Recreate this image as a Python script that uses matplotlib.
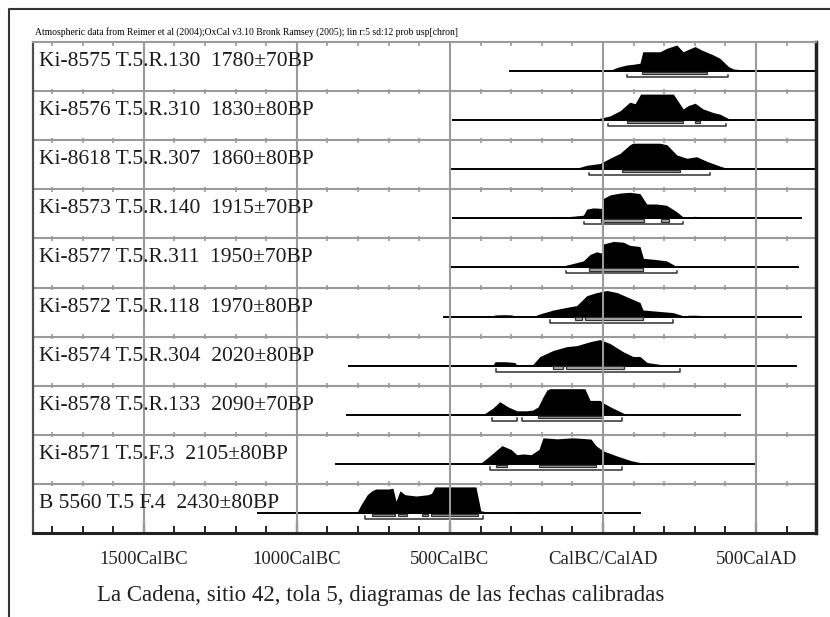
import matplotlib
matplotlib.use("Agg")
import matplotlib.pyplot as plt
from matplotlib.lines import Line2D
from matplotlib.patches import Rectangle

# sample labels, top to bottom
labels = [
    "Ki-8575 T.5.R.130  1780\u00b170BP",
    "Ki-8576 T.5.R.310  1830\u00b180BP",
    "Ki-8618 T.5.R.307  1860\u00b180BP",
    "Ki-8573 T.5.R.140  1915\u00b170BP",
    "Ki-8577 T.5.R.311  1950\u00b170BP",
    "Ki-8572 T.5.R.118  1970\u00b180BP",
    "Ki-8574 T.5.R.304  2020\u00b180BP",
    "Ki-8578 T.5.R.133  2090\u00b170BP",
    "Ki-8571 T.5.F.3  2105\u00b180BP",
    "B 5560 T.5 F.4  2430\u00b180BP",
]

# calibrated probability curves (year BC<0 / AD>0, relative height 0-100)
ki8575_years = [17, 50, 77, 100, 121, 130, 160, 186, 208, 241, 262, 279, 301, 322, 360, 382, 410, 426, 459, 491, 510, 529]
ki8575_prob = [0, 15, 23, 26, 30, 74, 74, 74, 87, 100, 74, 83, 94, 81, 62, 49, 17, 8, 4, 6, 4, 0]

ki8576_years = [-42, -10, 23, 56, 88, 105, 123, 230, 262, 279, 301, 327, 360, 382, 415, 426]
ki8576_prob = [0, 7, 16, 36, 69, 63, 100, 100, 43, 56, 65, 43, 29, 23, 3, 0]

ki8618_years = [-98, -53, -10, 23, 56, 88, 98, 186, 209, 241, 274, 306, 340, 382, 415]
ki8618_prob = [0, 15, 22, 42, 61, 94, 100, 100, 94, 55, 42, 48, 30, 12, 0]

ki8573_years = [-200, -162, -97, -64, -53, -32, -4, -1, 23, 56, 88, 121, 143, 175, 208, 241, 262, 284, 301, 322, 393]
ki8573_prob = [0, 3, 8, 12, 35, 40, 38, 75, 90, 97, 100, 95, 55, 55, 50, 25, 5, 3, 8, 3, 0]

ki8577_years = [-179, -141, -97, -64, -42, -21, -4, 1, 34, 66, 88, 121, 132, 175, 208, 246]
ki8577_prob = [0, 3, 15, 25, 50, 60, 55, 90, 100, 97, 85, 80, 35, 30, 25, 0]

ki8572_years = [-360, -353, -320, -297, -290, -228, -206, -162, -119, -86, -53, -21, 13, 46, 121, 131, 229, 262, 284, 300, 317, 327]
ki8572_prob = [0, 6, 7, 6, 0, 0, 10, 25, 35, 42, 80, 92, 100, 92, 54, 25, 15, 3, 5, 5, 4, 0]

ki8574_years = [-360, -353, -320, -288, -280, -232, -206, -163, -118, -85, -42, -10, 23, 65, 98, 121, 144, 212]
ki8574_prob = [0, 15, 15, 12, 0, 0, 35, 58, 73, 77, 92, 100, 85, 54, 35, 35, 12, 0]

ki8578_years = [-392, -360, -337, -310, -281, -250, -229, -212, -195, -183, -173, -59, -42, -10, 1, 33, 60, 78]
ki8578_prob = [0, 25, 50, 30, 15, 15, 18, 30, 70, 95, 100, 100, 55, 55, 45, 25, 10, 0]

ki8571_years = [-402, -370, -330, -300, -281, -260, -235, -209, -196, -150, -100, -60, -39, -23, 0, 46, 92, 141]
ki8571_prob = [0, 30, 70, 55, 35, 38, 35, 55, 100, 96, 100, 97, 95, 70, 50, 30, 12, 0]

b5560_years = [-804, -791, -770, -755, -742, -700, -686, -676, -663, -647, -610, -572, -560, -549, -415, -399, -356, -290, -285, -240, -235]
b5560_prob = [0, 30, 70, 85, 92, 92, 95, 45, 85, 70, 65, 70, 75, 100, 100, 8, 0, 0, 5, 5, 0]

curves_years = [ki8575_years, ki8576_years, ki8618_years, ki8573_years, ki8577_years,
                ki8572_years, ki8574_years, ki8578_years, ki8571_years, b5560_years]
curves_prob = [ki8575_prob, ki8576_prob, ki8618_prob, ki8573_prob, ki8577_prob,
               ki8572_prob, ki8574_prob, ki8578_prob, ki8571_prob, b5560_prob]

# extent of the horizontal line under each curve
line_start = [-304, -490, -493, -490, -500, -520, -830, -837, -872, -1127]
line_end = [700, 700, 700, 648, 637, 647, 631, 448, 500, 121]

# 68.2% and 95.4% probability ranges
ranges68 = [
    [(128, 340)],
    [(77, 262), (301, 317)],
    [(61, 252)],
    [(-5, 135), (190, 215)],
    [(-46, 131)],
    [(-92, -69), (-59, 131)],
    [(-163, -131), (-121, 69)],
    [(-212, -3)],
    [(-350, -314), (-209, -23)],
    [(-755, -680), (-670, -641), (-591, -572), (-562, -408)],
]
ranges95 = [
    [(78, 408)],
    [(17, 402)],
    [(-46, 350)],
    [(-62, 262)],
    [(-122, 241)],
    [(-173, 230)],
    [(-350, 252)],
    [(-363, -281), (-265, 62)],
    [(-369, 62)],
    [(-778, -392)],
]

tick_years = [-1500, -1000, -500, 0, 500]
tick_labels = ["1500CalBC", "1000CalBC", "500CalBC", "CalBC/CalAD", "500CalAD"]
minor_years = list(range(-1800, 700, 100))

header = ("Atmospheric data from Reimer et al (2004);OxCal v3.10 Bronk Ramsey (2005); "
          "lin r:5 sd:12 prob usp[chron]")
title = "La Cadena, sitio 42, tola 5, diagramas de las fechas calibradas"

serif = ["Liberation Serif", "DejaVu Serif"]
grey = "#9a9a9a"

W, H = 830, 617
fig = plt.figure(figsize=(W / 100, H / 100), dpi=100)
left, right, top, bottom = 33, 816, 42, 533
ax = fig.add_axes([left / W, 1 - bottom / H, (right - left) / W, (bottom - top) / H])
ax.set_xlim(-1862, 696)
ax.set_ylim(10, 0)

px = 10 / (bottom - top)     # one pixel in row units
base_off = 29 * px           # baseline below the top of a row
peak = 26 * px               # full curve height

# grid
for x in tick_years:
    ax.axvline(x, color=grey, lw=1.5, zorder=5)
for r in range(1, 10):
    ax.axhline(r, color=grey, lw=1.5, zorder=1)
    ax.vlines(minor_years, r - 2.5 * px, r + 2.5 * px, color=grey, lw=1.2, zorder=1)
ax.vlines(minor_years, 0, 4 * px, color=grey, lw=1.2, zorder=1)

for i in range(10):
    yb = i + base_off
    ys = [yb - p / 100 * peak for p in curves_prob[i]]
    ax.fill_between(curves_years[i], yb, ys, color="black", lw=0, zorder=3)
    ax.plot([line_start[i], line_end[i]], [yb, yb], color="black", lw=1.4, zorder=4)
    for a, b in ranges68[i]:
        ax.add_patch(Rectangle((a, yb + 0.8 * px), b - a, 2.4 * px,
                               facecolor="#b0b0b0", edgecolor="#303030", lw=0.9, zorder=4))
    for a, b in ranges95[i]:
        ax.plot([a, a, b, b], [yb + 3.5 * px, yb + 6 * px, yb + 6 * px, yb + 3.5 * px],
                color="#303030", lw=1.1, zorder=4)
    ax.text(-1843, i + 24 * px, labels[i], fontsize=15.5, family=serif,
            color="#1a1a1a", va="baseline", ha="left", zorder=6)

# frame
for side in ["top", "left", "right", "bottom"]:
    ax.spines[side].set_zorder(7)
ax.spines["top"].set_color(grey)
ax.spines["top"].set_linewidth(1.5)
ax.spines["left"].set_color("#505050")
ax.spines["left"].set_linewidth(1.6)
ax.spines["right"].set_color("#222222")
ax.spines["right"].set_linewidth(2.5)
ax.spines["bottom"].set_color("#222222")
ax.spines["bottom"].set_linewidth(2.2)

ax.set_xticks(tick_years, tick_labels, fontsize=13.5, family=serif, color="#222222")
ax.set_xticks(minor_years, minor=True)
ax.tick_params(axis="x", which="major", direction="in", length=8, width=1.6,
               color="#222222", pad=13)
ax.tick_params(axis="x", which="minor", direction="in", length=5, width=1.4,
               color="#222222")
ax.set_yticks([])

fig.text(35 / W, 1 - 32 / H, header, fontsize=6.9, family=serif, va="center", ha="left")
fig.text(97 / W, 1 - 596 / H, title, fontsize=16.5, family=serif, va="center", ha="left",
         color="#222222")

# outer frame of the original page
fig.add_artist(Line2D([9 / W, 9 / W, 1], [0, 1 - 9 / H, 1 - 9 / H],
                      transform=fig.transFigure, color="#333333", lw=1.5))

fig.savefig("out.png", dpi=100)
